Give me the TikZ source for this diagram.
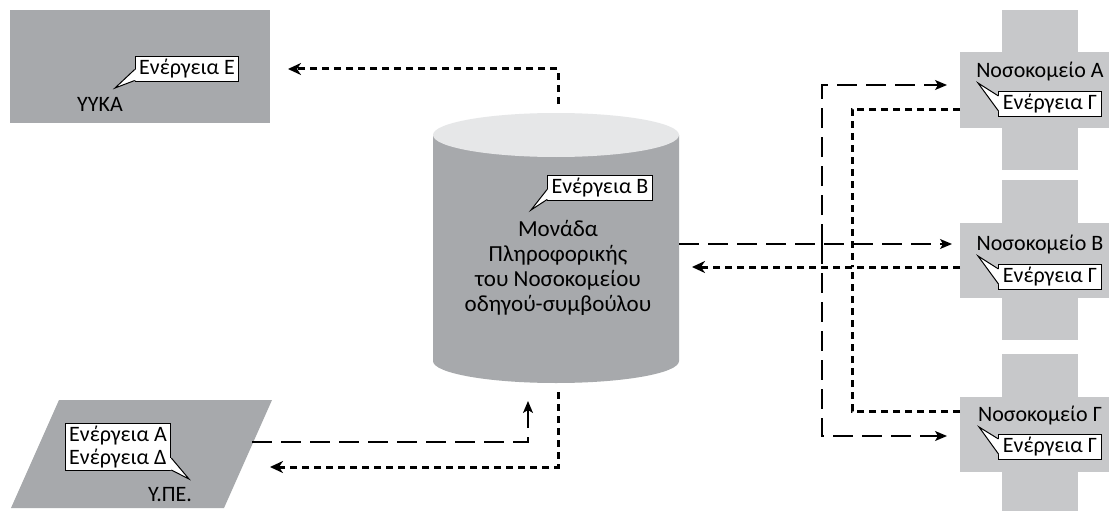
\documentclass[tikz,border=0pt]{standalone}
\usepackage{fontspec}
\setmainfont{Carlito}
\usetikzlibrary{arrows.meta,calc}

\definecolor{blockgrey}{HTML}{A7A9AC}
\definecolor{crossgrey}{HTML}{C7C8CA}
\definecolor{captop}{HTML}{E6E7E8}

\tikzset{
  txt/.style={font=\fontsize{22}{25}\selectfont, inner sep=0pt},
  callbox/.style={draw=black, line width=1pt, fill=white,
    font=\fontsize{22}{23}\selectfont, inner xsep=4pt, inner ysep=2.5pt},
  tailline/.style={draw=black, line width=1pt, line join=miter},
  flowtie/.style={line width=3pt, dash pattern=on 7pt off 5pt},
  flowback/.style={flowtie, -{Stealth[length=13pt,width=12pt,inset=4pt]}},
  flowout/.style={line width=1.4pt, dash pattern=on 20pt off 9pt,
    -{Stealth[length=12pt,width=10pt,inset=3pt]}},
}

% speech-bubble tail: base points #1 and #2 on the box border, tip #3,
% #4 is a small inward offset used to hide the border under the tail
\newcommand{\calltail}[4]{%
  \fill[white] (#1) -- (#3) -- (#2) -- ($(#2)+(#4)$) -- ($(#1)+(#4)$) -- cycle;
  \draw[tailline] (#1) -- (#3) -- (#2);}

\begin{document}
\begin{tikzpicture}[x=1pt,y=-1pt]
\useasboundingbox (0,0) rectangle (1109,511);
\fill[white] (0,0) rectangle (1109,511);

% ΥΥΚΑ block
\fill[blockgrey] (10,10) rectangle (270,123);
% Υ.ΠΕ. block
\fill[blockgrey] (59,400) -- (272,400) -- (224,508) -- (11,508) -- cycle;
% hospital crosses
\foreach \c in {90,260,434} {
  \fill[crossgrey] (1002,\c-80) rectangle (1078,\c+80);
  \fill[crossgrey] (960,\c-37.5) rectangle (1120,\c+37.5);
}
% database cylinder
\fill[blockgrey] (433,135) -- (433,361)
  .. controls (433,373.15) and (488.1,383) .. (556,383)
  .. controls (623.9,383) and (679,373.15) .. (679,361) -- (679,135) -- cycle;
\fill[captop] (556,135) ellipse [x radius=123, y radius=22];

% connector end points
\coordinate (misTop) at (558,104);
\coordinate (yykaIn) at (288,69);
\coordinate (ypeOut) at (252,442);
\coordinate (misInLow) at (528,401);
\coordinate (misBottom) at (558,392);
\coordinate (ypeIn) at (270,467);
\coordinate (misOut) at (679,244);
\coordinate (fork) at (822,244);
\coordinate (hAin) at (947,85);
\coordinate (hBin) at (952,244);
\coordinate (hCin) at (947,436);
\coordinate (hAout) at (960,109);
\coordinate (hBout) at (960,267);
\coordinate (hCout) at (960,411);
\coordinate (join) at (852,267);
\coordinate (misIn) at (692,267);

% connectors
\draw[flowback] (misTop) |- (yykaIn);
\draw[flowout] (ypeOut) -| (misInLow);
\draw[flowback] (misBottom) |- (ypeIn);
\draw[flowout] (misOut) -- (hBin);
\draw[flowout] (fork) |- (hAin);
\draw[flowout] (fork) |- (hCin);
\draw[flowtie] (hAout) -| (join);
\draw[flowtie] (hCout) -| (join);
\draw[flowback] (hBout) -- (misIn);

% ΥΥΚΑ label and callout
\node[txt] (yykaName) at (100,104) {ΥΥΚΑ};
\node[callbox] (actE) at (187,69) {Ενέργεια Ε};
\coordinate (eTip) at (115,88);
\coordinate (eA) at ($(actE.south west)+(0,-12)$);
\coordinate (eB) at ($(actE.south west)+(0,-1)$);
\calltail{eA}{eB}{eTip}{1.5,0}

% data unit label and callout
\node[txt, font=\fontsize{23}{25}\selectfont, align=center] (misName) at (558,268)
  {Μονάδα\\Πληροφορικής\\του Νοσοκομείου\\οδηγού-συμβούλου};
\node[callbox] (actB) at (600,188) {Ενέργεια Β};
\coordinate (bTip) at (531,210);
\coordinate (bA) at ($(actB.south west)+(0,-11)$);
\coordinate (bB) at ($(actB.south west)+(0,-1)$);
\calltail{bA}{bB}{bTip}{1.5,0}

% Υ.ΠΕ. label and callout
\node[txt] (ypeName) at (170,495) {Υ.ΠΕ.};
\node[callbox, align=left] (actAD) at (118,447) {Ενέργεια Α\\Ενέργεια Δ};
\coordinate (adTip) at (189,479);
\coordinate (adA) at ($(actAD.south east)+(0,-13)$);
\coordinate (adB) at ($(actAD.south east)+(0,-1)$);
\calltail{adA}{adB}{adTip}{-1.5,0}

% hospital labels and callouts
\node[txt] (hA) at (1040,72) {Νοσοκομείο Α};
\node[callbox] (actGA) at (1050,104) {Ενέργεια Γ};
\coordinate (gaTip) at (978,83);
\coordinate (gaA) at ($(actGA.west)+(0,-8)$);
\coordinate (gaB) at ($(actGA.west)+(0,7)$);
\calltail{gaA}{gaB}{gaTip}{1.5,0}

\node[txt] (hB) at (1040,245) {Νοσοκομείο Β};
\node[callbox] (actGB) at (1050,277) {Ενέργεια Γ};
\coordinate (gbTip) at (978,256);
\coordinate (gbA) at ($(actGB.west)+(0,-8)$);
\coordinate (gbB) at ($(actGB.west)+(0,7)$);
\calltail{gbA}{gbB}{gbTip}{1.5,0}

\node[txt] (hC) at (1040,416) {Νοσοκομείο Γ};
\node[callbox] (actGC) at (1050,447) {Ενέργεια Γ};
\coordinate (gcTip) at (979,427);
\coordinate (gcA) at ($(actGC.west)+(0,-8)$);
\coordinate (gcB) at ($(actGC.west)+(0,7)$);
\calltail{gcA}{gcB}{gcTip}{1.5,0}
\end{tikzpicture}
\end{document}
